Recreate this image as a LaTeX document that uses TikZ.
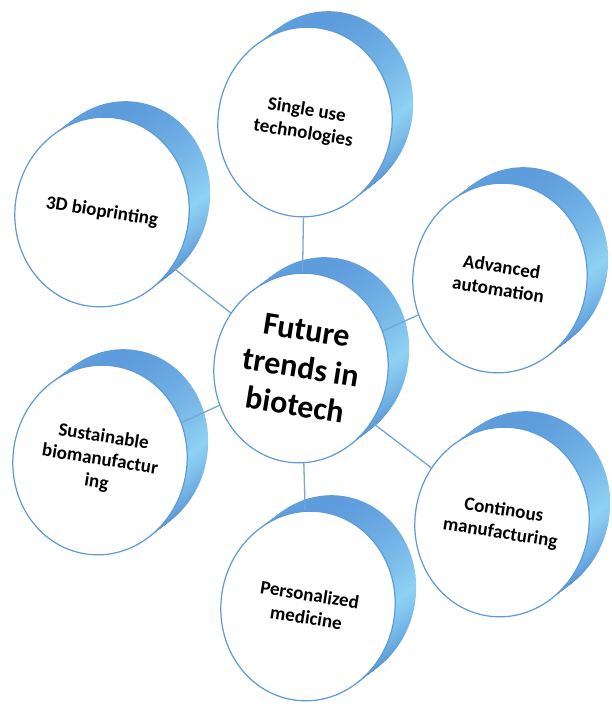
\documentclass[tikz,border=0pt]{standalone}
\usepackage{fontspec}
\setmainfont{Carlito}
\usetikzlibrary{shapes.geometric}
\definecolor{colorRim}{HTML}{5A98DA}
\definecolor{colorRimLight}{HTML}{8FD2F4}
\definecolor{colorRimDark}{HTML}{4A86CE}
\definecolor{colorEdge}{HTML}{5E9AD6}
\definecolor{colorWire}{HTML}{74A6DA}

\pgfdeclarelayer{rim}
\pgfdeclarelayer{wire}
\pgfsetlayers{rim,wire,main}

\tikzset{
    face/.style={ellipse, draw=colorEdge, line width=1.2pt, fill=white,
        minimum width=174pt, minimum height=190pt, inner sep=0pt,
        align=center, rotate=-9, font=\bfseries\fontsize{19}{23}\selectfont},
    hubface/.style={face, font=\bfseries\fontsize{32}{38}\selectfont},
    rimslice/.style={ellipse, minimum width=174pt, minimum height=190pt,
        inner sep=0pt, rotate=-9, top color=colorRim, bottom color=colorRimDark,
        middle color=colorRimLight},
    wire/.style={draw=colorWire, line width=1.3pt}
}

% one disc: rim slices stacked behind, white face in front
\newcommand{\disc}[5][face]{
    \begin{pgfonlayer}{rim}
        \foreach \t in {20,19,...,0}
            \node[rimslice] at (#3+\t*1.05, #4-\t*0.8) {};
    \end{pgfonlayer}
    \node[#1] (#2) at (#3,#4) {#5};
}

\begin{document}
\begin{tikzpicture}[x=1pt, y=-1pt]
    \useasboundingbox (0,0) rectangle (611,706);

    \disc{single}{305}{122}{Single use\\technologies}
    \disc{bioprint}{102}{212}{3D bioprinting}
    \disc{automation}{500}{278}{Advanced\\automation}
    \disc[hubface]{hub}{301}{368}{Future\\trends in\\biotech}
    \disc{sustain}{100}{460}{Sustainable\\biomanufactur\\ing}
    \disc{continous}{502}{522}{Continous\\manufacturing}
    \disc{personal}{308}{606}{Personalized\\medicine}

    \begin{pgfonlayer}{wire}
        \draw[wire] (hub) -- (single);
        \draw[wire] (hub) -- (bioprint);
        \draw[wire] (hub) -- (automation);
        \draw[wire] (hub) -- (sustain);
        \draw[wire] (hub) -- (continous);
        \draw[wire] (hub) -- (personal);
    \end{pgfonlayer}
\end{tikzpicture}
\end{document}
